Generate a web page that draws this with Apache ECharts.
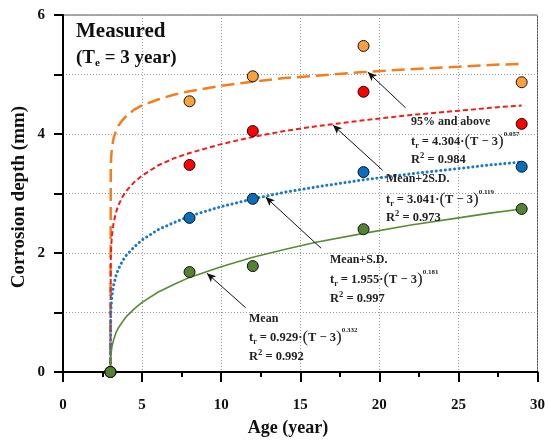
<!DOCTYPE html>
<html>
<head>
<meta charset="utf-8">
<script src="https://cdn.jsdelivr.net/npm/echarts@6/dist/echarts.min.js"></script>
<style>html,body{margin:0;padding:0;background:#fff}#c{width:548px;height:441px}</style>
</head>
<body>
<div id="c"></div>
<script>
// Measured points
var years = [3, 8, 12, 19, 29];
var meanPts = [0, 1.68, 1.78, 2.40, 2.74];
var meanSDPts = [0, 2.59, 2.91, 3.36, 3.45];
var mean2SDPts = [0, 3.48, 4.05, 4.71, 4.17];
var p95Pts = [0, 4.55, 4.97, 5.48, 4.87];

// Fitted curves
var fitX = [3, 3.02, 3.05, 3.1, 3.2, 3.35, 3.5, 3.75, 4, 4.5, 5, 6, 7, 8, 10, 12, 14, 16, 19, 22, 25, 27, 29];
var fitMean = [0, 0.25, 0.34, 0.43, 0.54, 0.66, 0.74, 0.84, 0.93, 1.06, 1.17, 1.34, 1.47, 1.59, 1.77, 1.93, 2.06, 2.18, 2.33, 2.47, 2.59, 2.67, 2.74];
var fitSD = [0, 0.96, 1.14, 1.29, 1.46, 1.62, 1.73, 1.86, 1.96, 2.10, 2.22, 2.39, 2.51, 2.62, 2.78, 2.91, 3.02, 3.11, 3.23, 3.33, 3.42, 3.48, 3.53];
var fit2SD = [0, 1.91, 2.13, 2.31, 2.51, 2.68, 2.80, 2.94, 3.04, 3.19, 3.30, 3.47, 3.59, 3.68, 3.83, 3.95, 4.05, 4.13, 4.23, 4.32, 4.39, 4.44, 4.48];
var fit95 = [0, 3.44, 3.63, 3.78, 3.93, 4.05, 4.14, 4.23, 4.30, 4.41, 4.48, 4.58, 4.66, 4.72, 4.81, 4.88, 4.94, 4.98, 5.04, 5.09, 5.13, 5.16, 5.18];

// Tick labels
var xTicks = [0, 5, 10, 15, 20, 25, 30];
var yTicks = [0, 2, 4, 6];

// Annotation texts
var annoNames = ['95% and above', 'Mean+2S.D.', 'Mean+S.D.', 'Mean'];
var annoCoef = ['4.304', '3.041', '1.955', '0.929'];
var annoExp = ['0.057', '0.119', '0.181', '0.332'];
var annoR2 = ['0.984', '0.973', '0.997', '0.992'];
// arrows: [head, tail] in data coords
var arrows = [
  [[19.27, 5.04], [21.66, 4.44]],
  [[17.07, 4.15], [20.21, 3.39]],
  [[12.81, 2.94], [16.32, 2.08]],
  [[9.10, 1.66], [11.55, 1.08]]
];

function pairs(xs, ys) { return xs.map(function (x, i) { return [x, ys[i]]; }); }

var FONT = 'Liberation Serif';
var chart = echarts.init(document.getElementById('c'), null, {renderer: 'canvas'});

var mctx = document.createElement('canvas').getContext('2d');
function fontStr(size, weight) { return (weight || 'bold') + ' ' + size + 'px ' + FONT; }
// lay out a line of text pieces (super/subscripts) as separate text elements
function runs(x, y, parts, color) {
  var out = [];
  var cx = x;
  parts.forEach(function (p) {
    var f = fontStr(p[1], p[3]);
    out.push({type: 'text', x: cx, y: y + (p[2] || 0), silent: true, z: 10,
      style: {text: p[0], font: f, fill: color || '#222', verticalAlign: 'middle'}});
    mctx.font = f;
    cx += mctx.measureText(p[0]).width;
  });
  return out;
}

var annoPos = [
  [411, 122, 142, 160],
  [386, 179, 200, 218],
  [330, 260, 280, 299],
  [249, 319, 338, 357]
];

var graphics = [];
annoNames.forEach(function (n, i) {
  var p = annoPos[i];
  graphics = graphics.concat(runs(p[0], p[1], [[n, 12]]));
  graphics = graphics.concat(runs(p[0], p[2], [
    ['t', 12.5], ['r', 8, 4], [' = ' + annoCoef[i] + '·', 12.5], ['(', 17, -0.5, 'normal'],
    ['T − 3', 12.5], [')', 17, -0.5, 'normal'], [annoExp[i], 7, -8]
  ]));
  graphics = graphics.concat(runs(p[0], p[3], [['R', 12.5], ['2', 8.5, -4], [' = ' + annoR2[i], 12.5]]));
});

graphics = graphics.concat(runs(76, 32, [['Measured', 21]], '#111'));
graphics = graphics.concat(runs(76, 58, [['(T', 19], ['e', 11, 5], [' = 3 year)', 19]], '#111'));
graphics.push({type: 'text', x: 288, y: 428, silent: true,
  style: {text: 'Age (year)', font: 'bold 18px ' + FONT, fill: '#111', align: 'center', verticalAlign: 'middle'}});
graphics.push({type: 'text', x: 19, y: 197, rotation: Math.PI / 2, silent: true,
  style: {text: 'Corrosion depth (mm)', font: 'bold 19px ' + FONT, fill: '#111', align: 'center', verticalAlign: 'middle'}});

var arrowData = arrows.map(function (a) { return [{coord: a[1]}, {coord: a[0]}]; });

function scatter(name, ys, color, z) {
  return {type: 'scatter', name: name, data: pairs(years, ys), symbol: 'circle', symbolSize: 11, z: z,
    itemStyle: {color: color, borderColor: '#111', borderWidth: 1, opacity: 1}, silent: true};
}

function curve(name, ys, lineStyle) {
  return {type: 'line', name: name, data: pairs(fitX, ys), showSymbol: false, symbol: 'none', z: 2,
    lineStyle: lineStyle, silent: true};
}

var meanCurve = curve('fitMean', fitMean, {color: '#5A8A36', width: 1.6});
meanCurve.markLine = {silent: true, symbol: ['none', 'arrow'], symbolSize: [6, 9], animation: false,
  label: {show: false}, lineStyle: {color: '#111', width: 1, type: 'solid'}, emphasis: {disabled: true},
  data: arrowData};

var option = {
  animation: false,
  backgroundColor: '#fff',
  grid: {left: 63, right: 7, top: 15, bottom: 69, show: true, borderColor: '#555', borderWidth: 1},
  xAxis: {type: 'value', min: 0, max: 30, interval: 5,
    axisLine: {onZero: false, lineStyle: {color: '#000', width: 2}},
    axisTick: {inside: false, length: 10, lineStyle: {color: '#000', width: 2}},
    minorTick: {show: true, splitNumber: 2, length: 5, lineStyle: {color: '#000', width: 2}},
    splitLine: {show: true, lineStyle: {color: '#999', type: [1, 2], width: 1}},
    axisLabel: {margin: 26, fontFamily: FONT, fontWeight: 'bold', fontSize: 15, color: '#111',
      formatter: function (v) { return xTicks.indexOf(v) >= 0 ? String(v) : ''; }}
  },
  yAxis: {type: 'value', min: 0, max: 6, interval: 1,
    axisLine: {show: true, onZero: false, lineStyle: {color: '#000', width: 2}},
    axisTick: {show: true, inside: false, length: 9, lineStyle: {color: '#000', width: 2}},
    splitLine: {show: true, lineStyle: {color: '#999', type: [1, 2], width: 1}},
    axisLabel: {margin: 18, fontFamily: FONT, fontWeight: 'bold', fontSize: 15, color: '#111',
      formatter: function (v) { return yTicks.indexOf(v) >= 0 ? String(v) : ''; }}
  },
  graphic: graphics,
  series: [
    curve('fit95', fit95, {color: '#F47D1E', width: 2.5, type: [13, 6]}),
    curve('fit2SD', fit2SD, {color: '#F21C1C', width: 2, type: [5, 3]}),
    curve('fitSD', fitSD, {color: '#1A78CC', width: 3, type: [0.1, 4.5], cap: 'round'}),
    meanCurve,
    scatter('p95', p95Pts, '#F9A040', 3),
    scatter('mean2SD', mean2SDPts, '#FF0000', 3),
    scatter('meanSD', meanSDPts, '#0A6EBF', 3),
    scatter('mean', meanPts, '#548235', 4)
  ]
};
chart.setOption(option);
</script>
</body>
</html>
